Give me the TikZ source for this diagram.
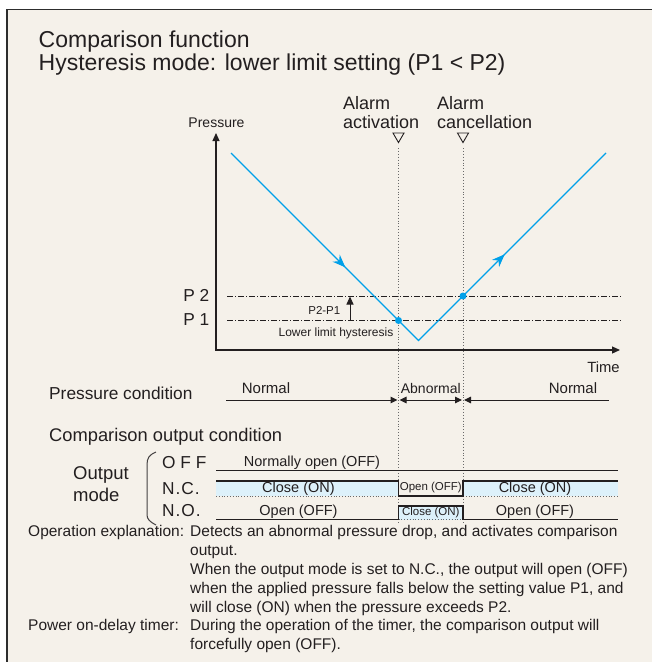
\documentclass[tikz,border=0pt]{standalone}
\usepackage{fontspec}
\setmainfont{Liberation Sans}
\usetikzlibrary{arrows.meta, decorations.markings, shapes.geometric}
\definecolor{paper}{RGB}{245,241,234}
\definecolor{ink}{RGB}{35,31,32}
\definecolor{frame}{RGB}{45,45,45}
\definecolor{press}{RGB}{0,160,233}
\definecolor{onband}{RGB}{221,241,250}
\definecolor{guidegray}{RGB}{105,105,105}
\tikzset{
    txt/.style = {inner sep=0pt, text=ink},
    title/.style = {txt, anchor=base west, font=\fontsize{23}{27}\selectfont},
    big/.style = {txt, font=\fontsize{18}{19}\selectfont},
    lbl/.style = {txt, font=\fontsize{17.3}{20}\selectfont},
    row/.style = {txt, font=\fontsize{14.5}{17}\selectfont},
    tiny/.style = {txt, font=\fontsize{11.5}{13}\selectfont},
    para/.style = {txt, anchor=north west, align=left, font=\fontsize{15.5}{18.8}\selectfont},
    axisline/.style = {draw=ink, line width=1.2pt},
    vline/.style = {draw=guidegray, line width=0.9pt, dotted},
    limit/.style = {draw=ink, line width=0.8pt, dash pattern=on 6pt off 2pt on 1pt off 2pt},
    sig/.style = {draw=ink, line width=1.2pt},
    bandedge/.style = {draw=guidegray, line width=0.8pt, dotted},
    span/.style = {draw=ink, line width=1pt},
    flow/.style = {draw=press, line width=1.2pt, postaction={decorate}},
    hit/.style = {circle, fill=press, inner sep=0pt, minimum size=7pt},
    alarm/.style = {regular polygon, regular polygon sides=3, shape border rotate=180,
        draw=ink, line width=0.9pt, inner sep=0pt, minimum size=12.7pt},
    tri/.tip = {Triangle[length=7pt,width=6.5pt]}
}
\begin{document}
\begin{tikzpicture}[x=1pt,y=-1pt]
\useasboundingbox (0,0) rectangle (652,662);
\fill[white] (0,0) rectangle (652,662);
\filldraw[fill=paper, draw=frame, line width=1.4pt] (7,9.5) rectangle (680,690);

\node[title] (t1) at (38.5,47) {Comparison function};
\node[title] (t2) at (38.5,70) {Hysteresis mode: lower limit setting (P1 < P2)};

% output bands
\fill[onband] (216,481) rectangle (398.5,496);
\fill[onband] (463,481) rectangle (618,496);
\fill[onband] (398.5,506) rectangle (463,519.5);
\draw[bandedge] (216,496) -- (398.5,496);
\draw[bandedge] (463,496) -- (618,496);
\draw[bandedge] (398.5,519.5) -- (463,519.5);

% alarm guides
\node[alarm] (a-tri) at (398.5,136.2) {};
\node[alarm] (c-tri) at (463,136.2) {};
\coordinate (a-top) at (398.5,148);
\coordinate (a-bot) at (398.5,524);
\coordinate (c-top) at (463,148);
\coordinate (c-bot) at (463,524);
\draw[vline] (a-top) -- (a-bot);
\draw[vline] (c-top) -- (c-bot);
\node[big, anchor=north west, align=left] (a-lbl) at (343,96.1) {Alarm\\activation};
\node[big, anchor=north west, align=left] (c-lbl) at (437,96.1) {Alarm\\cancellation};

% axes
\coordinate (ytip) at (216,133);
\coordinate (o) at (216,350);
\coordinate (xtip) at (620,350);
\draw[axisline, {Triangle[length=8pt,width=7pt]}-{Triangle[length=8pt,width=7pt]}] (ytip) -- (o) -- (xtip);
\node[txt, font=\fontsize{14}{16}\selectfont] (pr) at (216.5,123) {Pressure};
\node[txt, font=\fontsize{14.8}{16}\selectfont] (tm) at (603.5,367) {Time};

% set points
\coordinate (p2l) at (227,296);
\coordinate (p2r) at (622,296);
\coordinate (p1l) at (227,320.5);
\coordinate (p1r) at (622,320.5);
\draw[limit] (p2l) -- (p2r);
\draw[limit] (p1l) -- (p1r);
\node[lbl, anchor=east] (p2) at (209.5,295) {P 2};
\node[lbl, anchor=east] (p1) at (209.5,319.5) {P 1};
\coordinate (h1) at (350,320.5);
\coordinate (h2) at (350,296.5);
\draw[span, -{Triangle[length=8pt,width=7pt]}] (h1) -- (h2);
\node[tiny, anchor=east] (hl) at (340.5,310) {P2-P1};
\node[tiny, anchor=east, font=\fontsize{12}{13}\selectfont] (hys) at (393.5,333) {Lower limit hysteresis};

% pressure curve
\coordinate (s) at (231,153);
\coordinate (b) at (418.5,340.5);
\coordinate (e) at (606,153);
\draw[flow, decoration={markings,
    mark=at position 0.305 with {\arrow{Stealth[length=13pt,width=10pt]}},
    mark=at position 0.73 with {\arrow{Stealth[length=13pt,width=10pt]}}}]
    (s) -- (b) -- (e);
\node[hit] (d1) at (398.5,320.5) {};
\node[hit] (d2) at (463,296) {};

% pressure condition
\node[lbl, anchor=west] (pc) at (49,393) {Pressure condition};
\coordinate (n1l) at (226,400);
\coordinate (n1r) at (397.5,400);
\coordinate (abl) at (399.5,400);
\coordinate (abr) at (462,400);
\coordinate (n2l) at (464,400);
\coordinate (n2r) at (609,400);
\draw[span, -tri] (n1l) -- (n1r);
\draw[span, tri-tri] (abl) -- (abr);
\draw[span, tri-] (n2l) -- (n2r);
\node[txt, font=\fontsize{15}{17}\selectfont] (nl) at (266,388) {Normal};
\node[txt, font=\fontsize{14}{17}\selectfont] (ab) at (430.8,388) {Abnormal};
\node[txt, font=\fontsize{15}{17}\selectfont] (nr) at (573,388) {Normal};

% output condition
\node[txt, anchor=west, font=\fontsize{18.3}{20}\selectfont] (coc) at (49,437) {Comparison output condition};
\node[txt, anchor=north west, align=left, font=\fontsize{18.5}{22}\selectfont] (om) at (73,466.4) {Output\\mode};
\draw[ink!85, line width=1pt] (156,452) .. controls (149,455) and (147,458) .. (147,465)
    -- (147,515) .. controls (147,519) and (150,522) .. (156,525);
\node[lbl, anchor=west] (m-off) at (162,463) {O F F};
\node[lbl, anchor=west] (m-nc) at (162,488.5) {N\kern1pt.\kern1ptC\kern1pt.};
\node[lbl, anchor=west] (m-no) at (162,511) {N\kern1pt.\kern1ptO\kern1pt.};

\draw[sig] (216,470.5) -- (618,470.5);
\draw[sig] (216,481) -- (398.5,481) -- (398.5,496) -- (463,496) -- (463,481) -- (618,481);
\draw[sig] (216,519.5) -- (398.5,519.5) -- (398.5,506) -- (463,506) -- (463,519.5) -- (618,519.5);
\node[row] (off-t) at (312,462.5) {Normally open (OFF)};
\node[row] (nc-t1) at (298.5,489) {Close (ON)};
\node[tiny] (nc-t2) at (430.8,488) {Open (OFF)};
\node[row] (nc-t3) at (535,489) {Close (ON)};
\node[row] (no-t1) at (298.5,511.5) {Open (OFF)};
\node[tiny] (no-t2) at (430.8,512.8) {Close (ON)};
\node[row] (no-t3) at (535,511.5) {Open (OFF)};

% explanation
\node[para] (opx) at (28,525.4) {Operation explanation:};
\node[para] (opx-b) at (190,525.4) {Detects an abnormal pressure drop, and activates comparison\\
    output.\\
    When the output mode is set to N.C., the output will open (OFF)\\
    when the applied pressure falls below the setting value P1, and\\
    will close (ON) when the pressure exceeds P2.};
\node[para] (pwr) at (28,619.4) {Power on-delay timer:};
\node[para] (pwr-b) at (190,619.4) {During the operation of the timer, the comparison output will\\
    forcefully open (OFF).};
\end{tikzpicture}
\end{document}
